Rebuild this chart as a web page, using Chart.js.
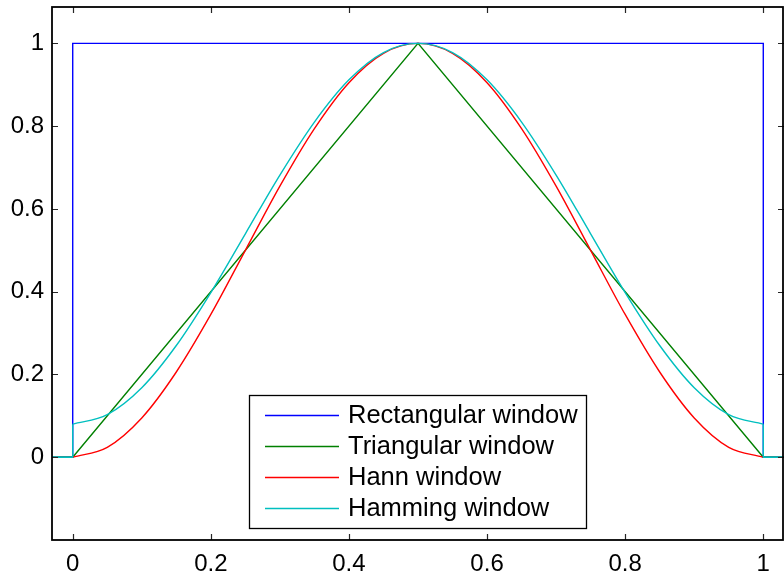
<!DOCTYPE html>
<html>
<head>
<meta charset="utf-8">
<script src="https://cdn.jsdelivr.net/npm/chart.js@4/dist/chart.umd.min.js"></script>
<style>
  html, body { margin: 0; padding: 0; background: #fff; }
  #wrap { position: relative; width: 784px; height: 574px; }
</style>
</head>
<body>
<div id="wrap"><canvas id="c" width="784" height="574"></canvas></div>
<script>
// ---- data ----
const seriesNames = ['Rectangular window', 'Triangular window', 'Hann window', 'Hamming window'];
const seriesColors = ['#0000ff', '#008000', '#ff0000', '#00bfbf'];

const rectX = [-0.03, 0, 0, 1, 1, 1.03];
const rectY = [0, 0, 1, 1, 0, 0];

const triX = [-0.03, 0, 0.5, 1, 1.03];
const triY = [0, 0, 1, 0, 0];

const curveX = [0, 0.05, 0.1, 0.15, 0.2, 0.25, 0.3, 0.35, 0.4, 0.45, 0.5,
                0.55, 0.6, 0.65, 0.7, 0.75, 0.8, 0.85, 0.9, 0.95, 1];
const hannY = [0, 0.024, 0.095, 0.206, 0.345, 0.5, 0.655, 0.794, 0.905, 0.976, 1,
               0.976, 0.905, 0.794, 0.655, 0.5, 0.345, 0.206, 0.095, 0.024, 0];
const hammingY = [0.08, 0.103, 0.168, 0.27, 0.398, 0.54, 0.682, 0.81, 0.912, 0.978, 1,
                  0.978, 0.912, 0.81, 0.682, 0.54, 0.398, 0.27, 0.168, 0.103, 0.08];
const hammingEdgeX = [-0.03, 0, 0, null, 1, 1, 1.03];
const hammingEdgeY = [0, 0, 0.08, null, 0.08, 0, 0];

const xTicks = [0, 0.2, 0.4, 0.6, 0.8, 1];
const yTicks = [0, 0.2, 0.4, 0.6, 0.8, 1];
const xRange = [-0.03, 1.03];
const yRange = [-0.2, 1.088];

// ---- helpers ----
const pts = (xs, ys) => xs.map((x, i) => (x === null ? { x: NaN, y: null } : { x: x, y: ys[i] }));
const FONT = '"Liberation Sans", Arial, Helvetica, sans-serif';

const frameAndTicks = {
  id: 'frameAndTicks',
  afterDatasetsDraw(chart) {
    const { ctx, chartArea: a, scales } = chart;
    ctx.save();
    ctx.strokeStyle = '#262626';
    ctx.lineWidth = 1.2;
    const len = 6;
    ctx.beginPath();
    xTicks.forEach(v => {
      const px = Math.round(scales.x.getPixelForValue(v)) + 0.5;
      ctx.moveTo(px, a.bottom); ctx.lineTo(px, a.bottom - len);
      ctx.moveTo(px, a.top); ctx.lineTo(px, a.top + len);
    });
    yTicks.forEach(v => {
      const py = Math.round(scales.y.getPixelForValue(v)) + 0.5;
      ctx.moveTo(a.left, py); ctx.lineTo(a.left + len, py);
      ctx.moveTo(a.right, py); ctx.lineTo(a.right - len, py);
    });
    ctx.stroke();
    ctx.strokeStyle = '#000';
    ctx.lineWidth = 1.8;
    ctx.strokeRect(a.left, a.top, a.right - a.left - 1, a.bottom - a.top);

    // legend box
    const bx = 249.5, by = 395.5, bw = 337, bh = 133;
    ctx.fillStyle = '#fff';
    ctx.fillRect(bx, by, bw, bh);
    ctx.strokeStyle = '#000';
    ctx.lineWidth = 1.3;
    ctx.strokeRect(bx, by, bw, bh);
    ctx.font = '25.5px ' + FONT;
    ctx.textBaseline = 'middle';
    ctx.textAlign = 'left';
    seriesNames.forEach((name, i) => {
      const y = 415 + i * 31;
      ctx.strokeStyle = seriesColors[i];
      ctx.lineWidth = 1.3;
      ctx.beginPath();
      ctx.moveTo(265, y + 0.5); ctx.lineTo(339, y + 0.5);
      ctx.stroke();
      ctx.fillStyle = '#000';
      ctx.fillText(name, 348, y + 1);
    });
    ctx.restore();
  }
};

const lineBase = { fill: false, pointRadius: 0, borderWidth: 1.4, tension: 0, spanGaps: false };

new Chart(document.getElementById('c'), {
  type: 'line',
  data: {
    datasets: [
      Object.assign({}, lineBase, { label: seriesNames[0], data: pts(rectX, rectY), borderColor: seriesColors[0], order: 5 }),
      Object.assign({}, lineBase, { label: seriesNames[1], data: pts(triX, triY), borderColor: seriesColors[1], order: 4 }),
      Object.assign({}, lineBase, { label: seriesNames[2], data: pts(curveX, hannY), borderColor: seriesColors[2], order: 3, cubicInterpolationMode: 'monotone' }),
      Object.assign({}, lineBase, { label: seriesNames[3], data: pts(curveX, hammingY), borderColor: seriesColors[3], order: 2, cubicInterpolationMode: 'monotone' }),
      Object.assign({}, lineBase, { label: seriesNames[3] + ' edges', data: pts(hammingEdgeX, hammingEdgeY), borderColor: seriesColors[3], order: 1 })
    ]
  },
  options: {
    responsive: false,
    animation: false,
    events: [],
    layout: { padding: { left: 0, top: 7, right: 0, bottom: 0 } },
    plugins: { legend: { display: false }, tooltip: { enabled: false } },
    scales: {
      x: {
        type: 'linear',
        min: xRange[0], max: xRange[1],
        grid: { display: false, drawTicks: false },
        border: { display: false },
        afterBuildTicks: s => { s.ticks = xTicks.map(v => ({ value: v })); },
        afterFit: s => { s.height = 34; s.paddingLeft = 0; s.paddingRight = 0; },
        ticks: { color: '#000', font: { family: FONT, size: 24 }, padding: 10, maxRotation: 0, autoSkip: false,
                 callback: v => String(v) }
      },
      y: {
        type: 'linear',
        min: yRange[0], max: yRange[1],
        grid: { display: false, drawTicks: false },
        border: { display: false },
        afterBuildTicks: s => { s.ticks = yTicks.map(v => ({ value: v })); },
        afterFit: s => { s.width = 52; s.paddingTop = 0; s.paddingBottom = 0; },
        ticks: { color: '#000', font: { family: FONT, size: 24 }, padding: 8, autoSkip: false,
                 callback: v => String(v) }
      }
    }
  },
  plugins: [frameAndTicks]
});
</script>
</body>
</html>
